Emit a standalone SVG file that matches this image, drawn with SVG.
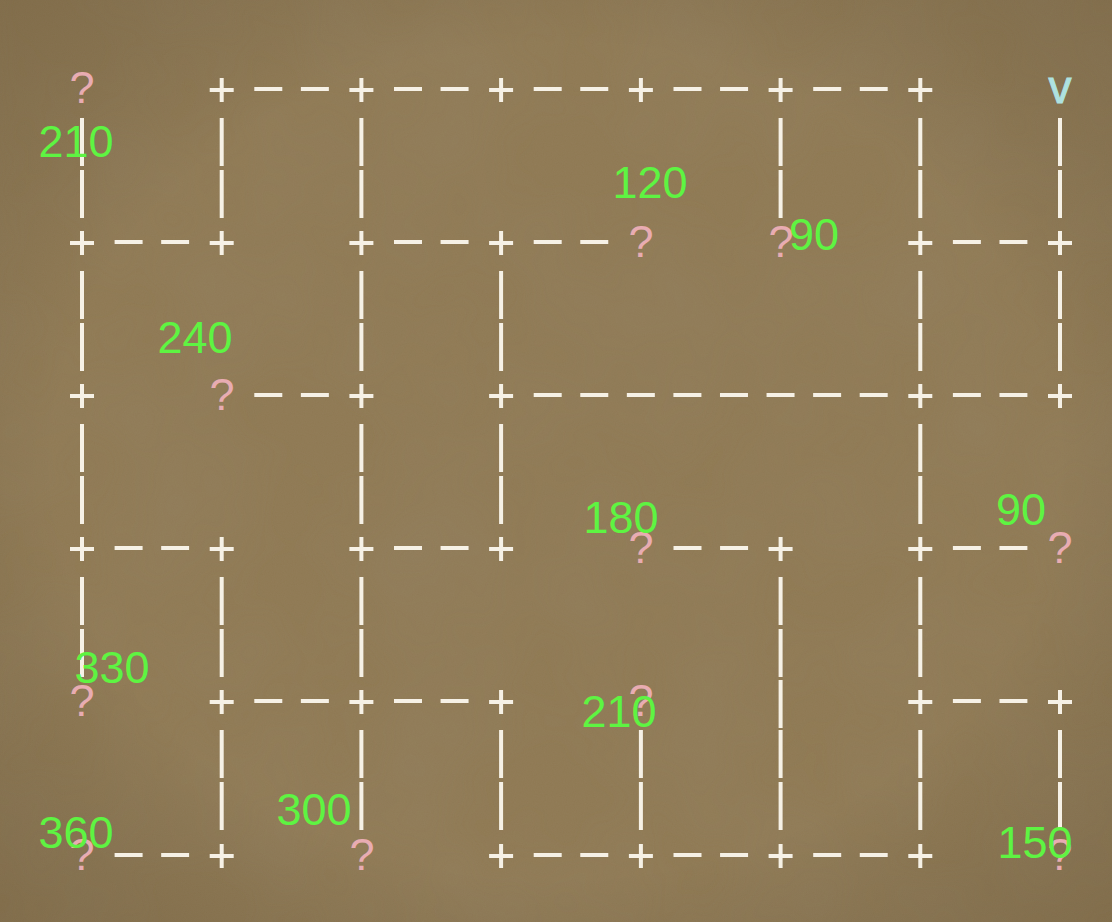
<svg xmlns="http://www.w3.org/2000/svg" width="1112" height="922" viewBox="0 0 1112 922">
<defs>
<filter id="paper" x="0" y="0" width="100%" height="100%">
<feTurbulence type="fractalNoise" baseFrequency="0.9" numOctaves="3" seed="4" result="n"/>
<feColorMatrix in="n" type="matrix" values="0 0 0 0 0.35  0 0 0 0 0.28  0 0 0 0 0.18  0 0 0 0.35 0" result="c"/>
<feComposite in="c" in2="SourceGraphic" operator="in"/>
</filter>
<filter id="blot" x="0" y="0" width="100%" height="100%">
<feTurbulence type="fractalNoise" baseFrequency="0.008" numOctaves="3" seed="9" result="n"/>
<feColorMatrix in="n" type="matrix" values="0 0 0 0 0.3  0 0 0 0 0.24  0 0 0 0 0.15  0 0 0 0.35 -0.1" result="c"/>
<feComposite in="c" in2="SourceGraphic" operator="in"/>
</filter>
<radialGradient id="vig" cx="50%" cy="50%" r="75%">
<stop offset="0.6" stop-color="#000" stop-opacity="0"/>
<stop offset="1" stop-color="#3a2a14" stop-opacity="0.18"/>
</radialGradient>
<g id="p"><path d="M-12 1H12M0-11V13"/></g>
</defs>
<style>
.ln{stroke:#f6f1e6;stroke-width:4;fill:none}
.h{stroke-dasharray:28 18.57}
.v{stroke-dasharray:48 4}
.q{font-family:"Liberation Sans",Arial,sans-serif;font-size:45px;fill:#e8acb2;text-anchor:middle}
.cv{font-family:"Liberation Sans",Arial,sans-serif;font-size:46px;fill:#aee2e0;text-anchor:middle;stroke:#aee2e0;stroke-width:1}
.n{font-family:"Liberation Sans",Arial,sans-serif;font-size:45px;fill:#5ef442;text-anchor:middle}
</style>
<rect width="1112" height="922" fill="#8f7953"/>
<rect width="1112" height="922" fill="#fff" filter="url(#blot)"/>
<rect width="1112" height="922" fill="#fff" filter="url(#paper)" opacity="0.5"/>
<rect width="1112" height="922" fill="url(#vig)"/>

<g id="connectors" class="ln">
<path class="h" d="M254.3 89H329.1M394 89H468.8M533.7 89H608.5M673.5 89H748.1M813.2 89H887.7"/>
<path class="h" d="M114.6 242H189.1M394 242H468.8M533.7 242H608.5M952.9 242H1027.4"/>
<path class="h" d="M254.3 395H329.1M533.7 395H887.7M952.9 395H1027.4"/>
<path class="h" d="M114.6 548H189.1M394 548H468.8M673.5 548H748.1M952.9 548H1027.4"/>
<path class="h" d="M254.3 701H329.1M394 701H468.8M952.9 701H1027.4"/>
<path class="h" d="M114.6 855H189.1M533.7 855H608.5M673.5 855H748.1M813.2 855H887.7"/>
<path class="v" d="M82 118V218M221.7 118V218M361.4 118V218M780.6 118V218M920.3 118V218M1060 118V218"/>
<path class="v" d="M82 271V371M361.4 271V371M501.1 271V371M920.3 271V371M1060 271V371"/>
<path class="v" d="M82 424V524M361.4 424V524M501.1 424V524M920.3 424V524"/>
<path class="v" d="M82 577V677M221.7 577V677M361.4 577V677M780.6 577V677M920.3 577V677"/>
<path class="v" d="M780.6 680V728"/>
<path class="v" d="M221.7 730V830M361.4 730V830M501.1 730V830M640.9 730V830M780.6 730V830M920.3 730V830M1060 730V830"/>
</g>

<g id="nodes" class="ln">
<g id="row0"><use href="#p" x="221.7" y="89"/><use href="#p" x="361.4" y="89"/><use href="#p" x="501.1" y="89"/><use href="#p" x="640.9" y="89"/><use href="#p" x="780.6" y="89"/><use href="#p" x="920.3" y="89"/></g>
<g id="row1"><use href="#p" x="82" y="242"/><use href="#p" x="221.7" y="242"/><use href="#p" x="361.4" y="242"/><use href="#p" x="501.1" y="242"/><use href="#p" x="920.3" y="242"/><use href="#p" x="1060" y="242"/></g>
<g id="row2"><use href="#p" x="82" y="395"/><use href="#p" x="361.4" y="395"/><use href="#p" x="501.1" y="395"/><use href="#p" x="920.3" y="395"/><use href="#p" x="1060" y="395"/></g>
<g id="row3"><use href="#p" x="82" y="548"/><use href="#p" x="221.7" y="548"/><use href="#p" x="361.4" y="548"/><use href="#p" x="501.1" y="548"/><use href="#p" x="780.6" y="548"/><use href="#p" x="920.3" y="548"/></g>
<g id="row4"><use href="#p" x="221.7" y="701"/><use href="#p" x="361.4" y="701"/><use href="#p" x="501.1" y="701"/><use href="#p" x="920.3" y="701"/><use href="#p" x="1060" y="701"/></g>
<g id="row5"><use href="#p" x="221.7" y="855"/><use href="#p" x="501.1" y="855"/><use href="#p" x="640.9" y="855"/><use href="#p" x="780.6" y="855"/><use href="#p" x="920.3" y="855"/></g>
</g>

<g id="marks">
<text class="q" x="82" y="103">?</text>
<text class="q" x="641" y="257">?</text>
<text class="q" x="781" y="257">?</text>
<text class="q" x="222" y="410">?</text>
<text class="q" x="641" y="563">?</text>
<text class="q" x="1060" y="563">?</text>
<text class="q" x="82" y="716">?</text>
<text class="q" x="641" y="716">?</text>
<text class="q" x="82" y="870">?</text>
<text class="q" x="362" y="870">?</text>
<text class="q" x="1060" y="870">?</text>
<text class="cv" x="1060" y="103">v</text>
</g>

<g id="labels">
<text class="n" x="76" y="157">210</text>
<text class="n" x="650" y="198">120</text>
<text class="n" x="814" y="250">90</text>
<text class="n" x="195" y="353">240</text>
<text class="n" x="621" y="533">180</text>
<text class="n" x="1021" y="525">90</text>
<text class="n" x="112" y="683">330</text>
<text class="n" x="619" y="727">210</text>
<text class="n" x="76" y="848">360</text>
<text class="n" x="314" y="825">300</text>
<text class="n" x="1035" y="858">150</text>
</g>
</svg>
